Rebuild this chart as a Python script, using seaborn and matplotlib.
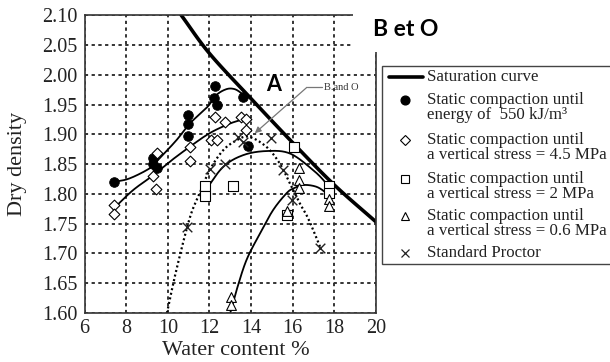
import numpy as np
import matplotlib
matplotlib.use("Agg")
import matplotlib.pyplot as plt
from matplotlib.patches import Rectangle
import seaborn as sns

# ---- measured points -------------------------------------------------------
energy_w = [7.40, 9.29, 9.29, 9.48, 10.97, 10.97, 10.97, 12.27, 12.22, 12.36, 13.63, 13.86]
energy_rho = [1.820, 1.860, 1.851, 1.843, 1.932, 1.917, 1.898, 1.981, 1.961, 1.949, 1.963, 1.880]

stress45_w = [7.40, 7.40, 9.29, 9.44, 9.48, 11.05, 11.05, 12.09, 12.37, 12.26, 12.75, 13.52, 13.78, 13.75]
stress45_rho = [1.781, 1.766, 1.830, 1.809, 1.868, 1.879, 1.855, 1.891, 1.890, 1.930, 1.920, 1.929, 1.925, 1.908]

stress2_w = [11.81, 11.81, 13.13, 15.72, 16.08, 17.75, 17.75]
stress2_rho = [1.814, 1.796, 1.813, 1.765, 1.879, 1.813, 1.801]

stress06_w = [13.02, 13.02, 15.72, 16.28, 16.28, 16.28, 17.75, 17.75]
stress06_rho = [1.627, 1.613, 1.771, 1.844, 1.823, 1.810, 1.792, 1.780]

proctor_w = [10.94, 12.03, 12.74, 13.36, 13.60, 14.94, 15.54, 15.97, 17.33]
proctor_rho = [1.744, 1.842, 1.851, 1.895, 1.888, 1.894, 1.841, 1.790, 1.710]

# ---- fitted trend curves (knots along each curve) --------------------------
sat_w = [10.65, 12.0, 14.0, 16.0, 18.0, 20.0]
sat_rho = [2.100, 2.036, 1.960, 1.886, 1.815, 1.753]

energy_fit_w = [7.40, 8.16, 9.13, 9.53, 10.41, 11.05, 11.90, 12.33, 12.82, 13.21, 13.54, 13.70]
energy_fit_rho = [1.820, 1.826, 1.843, 1.857, 1.890, 1.918, 1.946, 1.966, 1.976, 1.976, 1.969, 1.963]

stress45_fit_w = [7.39, 8.32, 9.29, 10.09, 11.05, 12.01, 12.97, 13.60]
stress45_fit_rho = [1.775, 1.806, 1.831, 1.854, 1.879, 1.902, 1.918, 1.925]

stress2_fit_w = [11.77, 12.65, 13.61, 14.73, 15.86, 16.98, 17.62, 17.78]
stress2_fit_rho = [1.804, 1.845, 1.865, 1.872, 1.868, 1.840, 1.817, 1.803]

stress06_fit_w = [13.00, 13.30, 13.78, 14.42, 15.06, 15.70, 16.02, 16.50, 17.14, 17.62, 17.78]
stress06_fit_rho = [1.600, 1.638, 1.689, 1.733, 1.773, 1.801, 1.809, 1.815, 1.812, 1.801, 1.792]

proctor_fit_w = [9.96, 10.41, 11.05, 11.53, 12.01, 12.65, 13.30, 13.90, 14.74, 15.38, 15.86, 16.34, 16.74, 17.33]
proctor_fit_rho = [1.600, 1.672, 1.759, 1.801, 1.840, 1.873, 1.890, 1.896, 1.879, 1.851, 1.818, 1.784, 1.759, 1.710]

x_ticks = [6, 8, 10, 12, 14, 16, 18, 20]
y_ticks = [1.60, 1.65, 1.70, 1.75, 1.80, 1.85, 1.90, 1.95, 2.00, 2.05, 2.10]

legend_labels = [
    ["Saturation curve"],
    ["Static compaction until", "energy of  550 kJ/m\u00b3"],
    ["Static compaction until", "a vertical stress = 4.5 MPa"],
    ["Static compaction until", "a vertical stress = 2 MPa"],
    ["Static compaction until", "a vertical stress = 0.6 MPa"],
    ["Standard Proctor"],
]


def smooth(xs, ys, per=24):
    """Catmull-Rom spline through the knots."""
    p = np.column_stack([xs, ys]).astype(float)
    p = np.vstack([2 * p[0] - p[1], p, 2 * p[-1] - p[-2]])
    t = np.linspace(0, 1, per, endpoint=False)[:, None]
    segs = []
    for i in range(1, len(p) - 2):
        p0, p1, p2, p3 = p[i - 1], p[i], p[i + 1], p[i + 2]
        segs.append(0.5 * (2 * p1 + (-p0 + p2) * t
                           + (2 * p0 - 5 * p1 + 4 * p2 - p3) * t ** 2
                           + (-p0 + 3 * p1 - 3 * p2 + p3) * t ** 3))
    segs.append(p[-2][None, :])
    c = np.vstack(segs)
    return c[:, 0], c[:, 1]


sns.set_theme(style="white")
plt.rcParams["font.family"] = ["Liberation Serif", "DejaVu Serif"]

W, H = 610, 362
fig = plt.figure(figsize=(W / 100, H / 100), dpi=100)
fig.patch.set_facecolor("white")
x0, x1, y0, y1 = 84.5, 376.0, 15.3, 313.0
rect = [x0 / W, 1 - y1 / H, (x1 - x0) / W, (y1 - y0) / H]

# background axes carrying the dotted grid
grid_color = "#2e2e2e"
grid_style = (0, (2.0, 2.4))
gax = fig.add_axes(rect, zorder=-1)
gax.set_xlim(6, 20)
gax.set_ylim(1.60, 2.10)
gax.axis("off")
for xv in x_ticks[1:-1]:
    gax.plot([xv, xv], [1.60, 2.10], color=grid_color, lw=1.1, linestyle=grid_style)
for yv in y_ticks[1:-1]:
    gax.plot([6, 20], [yv, yv], color=grid_color, lw=1.1, linestyle=grid_style)

ax = fig.add_axes(rect, zorder=1)
ax.patch.set_visible(False)
ax.set_xlim(6, 20)
ax.set_ylim(1.60, 2.10)

# curves
line_kw = dict(sort=False, estimator=None, ax=ax, legend=False)
cx, cy = smooth(sat_w, sat_rho)
sns.lineplot(x=cx, y=cy, color="black", linewidth=2.6, **line_kw)
for fw, fr in [(energy_fit_w, energy_fit_rho), (stress45_fit_w, stress45_fit_rho),
               (stress2_fit_w, stress2_fit_rho), (stress06_fit_w, stress06_fit_rho)]:
    cx, cy = smooth(fw, fr)
    sns.lineplot(x=cx, y=cy, color="black", linewidth=1.3, **line_kw)
cx, cy = smooth(proctor_fit_w, proctor_fit_rho)
sns.lineplot(x=cx, y=cy, color="black", linewidth=1.6, linestyle=(0, (0.9, 1.2)), **line_kw)

# measured points
sc = dict(ax=ax, legend=False, zorder=5)
sns.scatterplot(x=energy_w, y=energy_rho, marker="o", s=48, color="black", edgecolor="black", linewidth=0.6, **sc)
sns.scatterplot(x=stress45_w, y=stress45_rho, marker="D", s=30, color="white", edgecolor="black", linewidth=0.8, **sc)
sns.scatterplot(x=stress2_w, y=stress2_rho, marker="s", s=46, color="white", edgecolor="black", linewidth=0.8, **sc)
sns.scatterplot(x=stress06_w, y=stress06_rho, marker="^", s=50, color="white", edgecolor="black", linewidth=0.8, **sc)
sns.scatterplot(x=proctor_w, y=proctor_rho, marker="x", s=48, color="#222222", linewidth=1.0, **sc)

ax.set_xlim(6, 20)
ax.set_ylim(1.60, 2.10)
ax.set_xticks(x_ticks)
ax.set_yticks(y_ticks)
ax.set_xticklabels([str(v) for v in x_ticks])
ax.set_yticklabels([f"{v:.2f}" for v in y_ticks])
for sp in ax.spines.values():
    sp.set_visible(True)
    sp.set_color("#333333")
    sp.set_linewidth(1.2)
ax.tick_params(direction="inout", length=6, width=1.0, color="#333333",
               labelsize=14.5, labelcolor="#222222")
ax.tick_params(axis="x", pad=1)
ax.tick_params(axis="y", pad=2)
ax.set_xlabel("Water content %", fontsize=16, color="#222222")
ax.set_ylabel("Dry density", fontsize=16, color="#222222")
ax.xaxis.set_label_coords(0.52, -0.095)
ax.yaxis.set_label_coords(-0.197, 0.5)

# annotations inside the plot
ax.text(15.09, 1.983, "A", ha="center", va="center", fontsize=15.5,
        fontweight="bold", family=["Lato", "DejaVu Sans"], color="black")
ax.annotate("", xy=(14.18, 1.902), xytext=(16.68, 1.979),
            arrowprops=dict(arrowstyle="-|>", color="#777777", lw=0.9, mutation_scale=9,
                            shrinkA=0, shrinkB=0))
ax.plot([16.68, 17.42], [1.979, 1.979], color="#777777", lw=0.9)
ax.text(17.5, 1.979, "B.and O", ha="left", va="center", fontsize=7.5, color="#333333")

# dotted grid on the main axes as well, under the curves
ax.grid(True, which="major", color=grid_color, linestyle=grid_style, linewidth=1.1)
ax.set_axisbelow(True)

# overlay in pixel space for the legend and the heading
ov = fig.add_axes([0, 0, 1, 1], zorder=10)
ov.set_xlim(0, W)
ov.set_ylim(H, 0)
ov.axis("off")
ov.add_patch(Rectangle((353, -2), 260, 54, facecolor="white", edgecolor="none"))
ov.text(373, 29, "B et O", ha="left", va="center", fontsize=16.5, fontweight="bold",
        family=["Lato", "DejaVu Sans"], color="black")

ov.add_patch(Rectangle((382, 66), 240, 198, facecolor="white", edgecolor="#444444", lw=1.0))
rows = [77, 100, 140, 179, 216, 253]
hx = 405
ov.plot([389, 423], [rows[0], rows[0]], color="black", lw=2.6)
ov.plot(hx, rows[1], marker="o", ms=6.3, color="black", mec="black")
ov.plot(hx, rows[2], marker="D", ms=4.6, mfc="white", mec="black", mew=0.8)
ov.plot(hx, rows[3], marker="s", ms=6.0, mfc="white", mec="black", mew=0.8)
ov.plot(hx, rows[4], marker="^", ms=6.4, mfc="white", mec="black", mew=0.8)
ov.plot(hx, rows[5], marker="x", ms=6.0, color="#222222", mew=0.9)
for r, lines in zip(rows, legend_labels):
    for k, txt in enumerate(lines):
        ov.text(427, r + 15 * k, txt, ha="left", va="center", fontsize=12.2, color="#222222")

fig.savefig("out.png", dpi=100, facecolor="white")
